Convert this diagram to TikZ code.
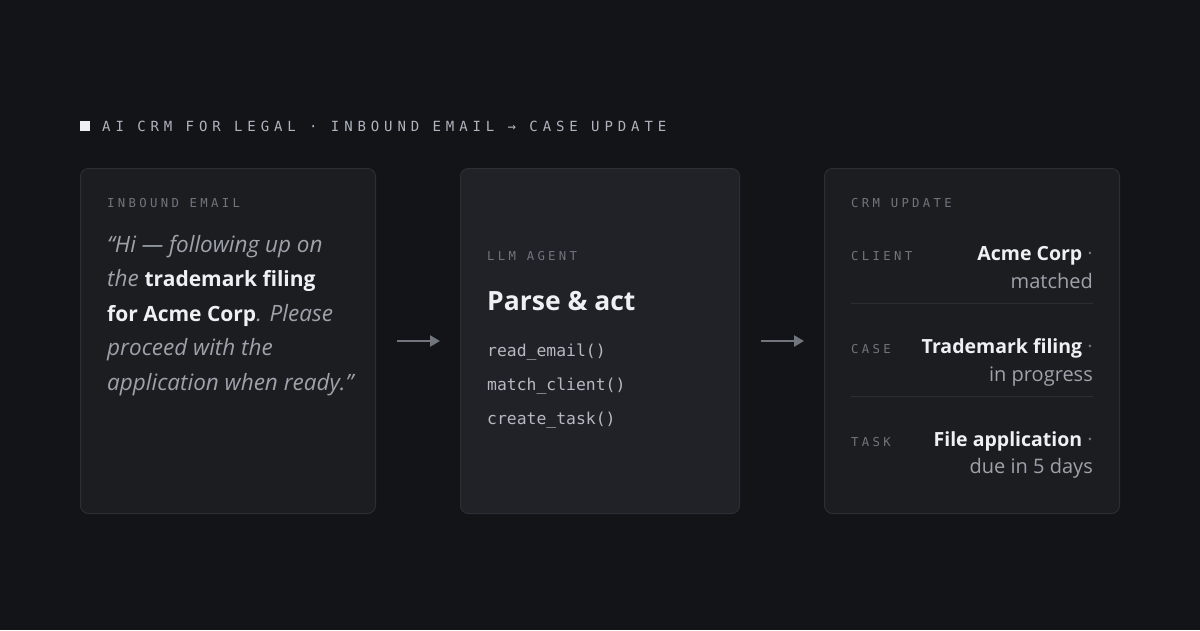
\documentclass[tikz,border=0pt]{standalone}
\usepackage{fontspec}
\setmainfont{Open Sans}
\setmonofont{DejaVu Sans Mono}
\newfontfamily\titlemono[LetterSpace=35]{DejaVu Sans Mono}
\newfontfamily\labelmono[LetterSpace=27]{DejaVu Sans Mono}
\usetikzlibrary{arrows.meta}
\definecolor{bgdark}{HTML}{131418}
\definecolor{cardfill}{HTML}{1C1D21}
\definecolor{agentfill}{HTML}{212228}
\definecolor{cardline}{HTML}{2D2E35}
\definecolor{titlegray}{HTML}{AEB3BD}
\definecolor{labelgray}{HTML}{70747D}
\definecolor{quotegray}{HTML}{9DA2AB}
\definecolor{textwhite}{HTML}{EEF0F3}
\definecolor{codegray}{HTML}{B5B9C1}
\definecolor{arrowgray}{HTML}{71757E}
\definecolor{dividergray}{HTML}{2C2D33}
\newcommand{\quotebold}[1]{\textcolor{textwhite}{\upshape\bfseries\fontsize{21}{24}\selectfont #1}}
\newcommand{\valuebold}[1]{\textcolor{textwhite}{\bfseries\fontsize{19.5}{24}\selectfont #1}}

\begin{document}
\begin{tikzpicture}[
        x=1pt, y=-1pt,
        card/.style={rectangle, rounded corners=8pt, draw=cardline, line width=1pt, fill=cardfill, minimum width=295pt, minimum height=345pt, anchor=north west},
        agentcard/.style={card, fill=agentfill, minimum width=279pt},
        titletext/.style={anchor=base west, inner sep=0pt, text=titlegray, font=\titlemono\fontsize{14}{16}\selectfont},
        cardlabel/.style={anchor=base west, inner sep=0pt, text=labelgray, font=\labelmono\fontsize{12.3}{14}\selectfont},
        quotetext/.style={anchor=base west, inner sep=0pt, text=quotegray, font=\itshape\fontsize{22.5}{26}\selectfont},
        headtext/.style={anchor=base west, inner sep=0pt, text=textwhite, font=\bfseries\fontsize{26.5}{30}\selectfont},
        codetext/.style={anchor=base west, inner sep=0pt, text=codegray, font=\ttfamily\fontsize{16.4}{20}\selectfont},
        valuetext/.style={anchor=base east, inner sep=0pt, text=labelgray, font=\fontsize{20}{24}\selectfont},
        statustext/.style={anchor=base east, inner sep=0pt, text=quotegray, font=\fontsize{20}{24}\selectfont},
        flowarrow/.style={-{Triangle[length=10pt, width=11pt]}, line width=2.7pt, color=arrowgray},
        divline/.style={draw=dividergray, line width=1pt}
    ]

    % Background
    \fill[bgdark] (0,0) rectangle (1200,630);
    \useasboundingbox (0,0) rectangle (1200,630);

    % Title
    \node[fill=textwhite, minimum size=10pt, inner sep=0pt] (mark) at (85,126) {};
    \node[titletext] (title) at (102,131) {AI CRM FOR LEGAL · INBOUND EMAIL → CASE UPDATE};

    % Cards
    \node[card] (email) at (80,168) {};
    \node[agentcard] (agent) at (460,168) {};
    \node[card] (crm) at (824,168) {};

    % Inbound email
    \node[cardlabel] (emaillabel) at (107,207) {INBOUND EMAIL};
    \node[quotetext] (q1) at (107,252) {“Hi — following up on};
    \node[quotetext] (q2) at (107,286.5) {the \quotebold{trademark filing}};
    \node[quotetext] (q3) at (107,321) {\quotebold{for Acme Corp}. Please};
    \node[quotetext] (q4) at (107,355.5) {proceed with the};
    \node[quotetext] (q5) at (107,390) {application when ready.”};

    % LLM agent
    \node[cardlabel] (agentlabel) at (487,260) {LLM AGENT};
    \node[headtext] (parse) at (487,310) {Parse \& act};
    \node[codetext] (read) at (487,356) {read\_email()};
    \node[codetext] (match) at (487,390) {match\_client()};
    \node[codetext] (task) at (487,424) {create\_task()};

    % CRM update
    \node[cardlabel] (crmlabel) at (851,207) {CRM UPDATE};

    \node[cardlabel] (clientlabel) at (851,260.5) {CLIENT};
    \node[valuetext] (clientval) at (1093,260) {\valuebold{Acme Corp} ·};
    \node[statustext] (clientstat) at (1093,288) {matched};
    \draw[divline] (851,303) -- (1093,303);

    \node[cardlabel] (caselabel) at (851,353.5) {CASE};
    \node[valuetext] (caseval) at (1093,353.5) {\valuebold{Trademark filing} ·};
    \node[statustext] (casestat) at (1093,381) {in progress};
    \draw[divline] (851,396) -- (1093,396);

    \node[cardlabel] (tasklabel) at (851,446.5) {TASK};
    \node[valuetext] (taskval) at (1093,446.5) {\valuebold{File application} ·};
    \node[statustext] (taskstat) at (1093,473.5) {due in 5 days};

    % Flow
    \draw[flowarrow, shorten <=21pt, shorten >=20pt] (email) -- (agent);
    \draw[flowarrow, shorten <=21pt, shorten >=20pt] (agent) -- (crm);

\end{tikzpicture}
\end{document}
